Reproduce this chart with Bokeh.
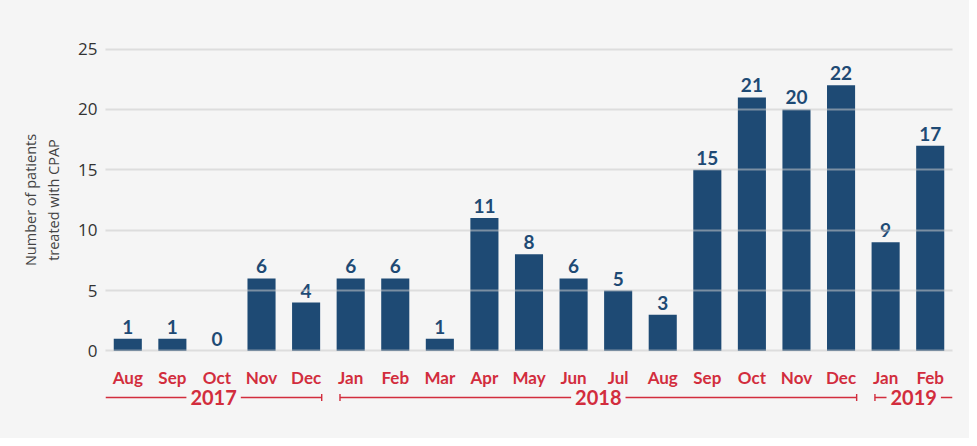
from bokeh.plotting import figure
from bokeh.layouts import column
from bokeh.models import ColumnDataSource, Range1d, Whisker, TeeHead, Label
from bokeh.embed import file_html
from bokeh.resources import INLINE
from bokeh.core.properties import value

months = ["Aug", "Sep", "Oct", "Nov", "Dec", "Jan", "Feb", "Mar", "Apr", "May",
          "Jun", "Jul", "Aug", "Sep", "Oct", "Nov", "Dec", "Jan", "Feb"]
years = ["2017"] * 5 + ["2018"] * 12 + ["2019"] * 2
patients = [1, 1, 0, 6, 4, 6, 6, 1, 11, 8, 6, 5, 3, 15, 21, 20, 22, 9, 17]
y_ticks = [0, 5, 10, 15, 20, 25]
y_label = "Number of patients\ntreated with CPAP"

BG = "#f5f5f5"
NAVY = "#1e4a74"
RED = "#d22d3d"
W = 969

xs = list(range(len(months)))
src = ColumnDataSource(dict(x=xs, patients=patients, label=[str(v) for v in patients],
                            month=months))
xr = Range1d(-0.5, len(months) - 0.5)

p = figure(width=W, height=364, output_backend="svg", toolbar_location=None,
           x_range=xr, y_range=Range1d(-0.3, 25.3), x_axis_location=None,
           min_border_left=105, min_border_right=17, min_border_top=45, min_border_bottom=10,
           background_fill_color=BG, border_fill_color=BG, outline_line_color=None,
           styles={"background-color": BG})

p.vbar(x="x", top="patients", width=0.63, source=src, fill_color=NAVY, line_color=None)
p.text(x="x", y="patients", text="label", source=src, text_align="center",
       text_baseline="bottom", y_offset=-5, text_color=NAVY,
       text_font=value("Lato"), text_font_style="bold", text_font_size="19px")

# grid
p.xgrid.visible = False
p.ygrid.ticker = y_ticks
p.ygrid.grid_line_color = "#c8c8c8"
p.ygrid.grid_line_alpha = 0.55
p.ygrid.grid_line_width = 2
p.ygrid.level = "overlay"

# y axis
p.yaxis.ticker = y_ticks
p.yaxis.axis_line_color = None
p.yaxis.major_tick_line_color = None
p.yaxis.minor_tick_line_color = None
p.yaxis.major_tick_out = 0
p.yaxis.major_label_standoff = 8
p.yaxis.major_label_text_font = "Open Sans"
p.yaxis.major_label_text_font_size = "17px"
p.yaxis.major_label_text_color = "#333333"
p.yaxis.axis_label = y_label
p.yaxis.axis_label_standoff = 12
p.yaxis.axis_label_text_font = "Open Sans"
p.yaxis.axis_label_text_font_style = "normal"
p.yaxis.axis_label_text_font_size = "14.5px"
p.yaxis.axis_label_text_color = "#444444"

# month labels and year brackets strip (shares the x scale)
p2 = figure(width=W, height=74, output_backend="svg", toolbar_location=None,
            x_range=xr, y_range=Range1d(74, 0),
            x_axis_location=None, y_axis_location=None,
            min_border_left=105, min_border_right=17, min_border_top=0, min_border_bottom=0,
            background_fill_color=BG, border_fill_color=BG, outline_line_color=None,
            styles={"background-color": BG})
p2.xgrid.visible = False
p2.ygrid.visible = False

month_y = 13
p2.text(x="x", y=month_y, text="month", source=src, text_align="center",
        text_baseline="middle", text_color=RED, text_font=value("Lato"),
        text_font_style="bold", text_font_size="17px")

groups = []
for i, yr in enumerate(years):
    if not groups or groups[-1][0] != yr:
        groups.append([yr, i, i])
    else:
        groups[-1][2] = i

year_y = 33
for gi, (yr, first, last) in enumerate(groups):
    lo = -0.5 if gi == 0 else first - 0.24
    hi = len(months) - 0.5 if gi == len(groups) - 1 else last + 0.35
    wsrc = ColumnDataSource(dict(base=[year_y], lower=[lo], upper=[hi]))
    w = Whisker(source=wsrc, base="base", lower="lower", upper="upper", dimension="width",
                line_color=RED, line_width=1.4,
                lower_head=None if gi == 0 else TeeHead(size=7, line_color=RED, line_width=1.4),
                upper_head=None if gi == len(groups) - 1 else TeeHead(size=7, line_color=RED, line_width=1.4))
    p2.add_layout(w)
    p2.add_layout(Label(x=(lo + hi) / 2, y=year_y, text=yr, text_align="center",
                        text_baseline="middle", text_color=RED, text_font="Lato",
                        text_font_style="bold", text_font_size="20px",
                        background_fill_color=BG, padding=4))

layout = column(p, p2, spacing=0, styles={"background-color": BG})
open("out.html", "w").write(file_html(layout, INLINE))
